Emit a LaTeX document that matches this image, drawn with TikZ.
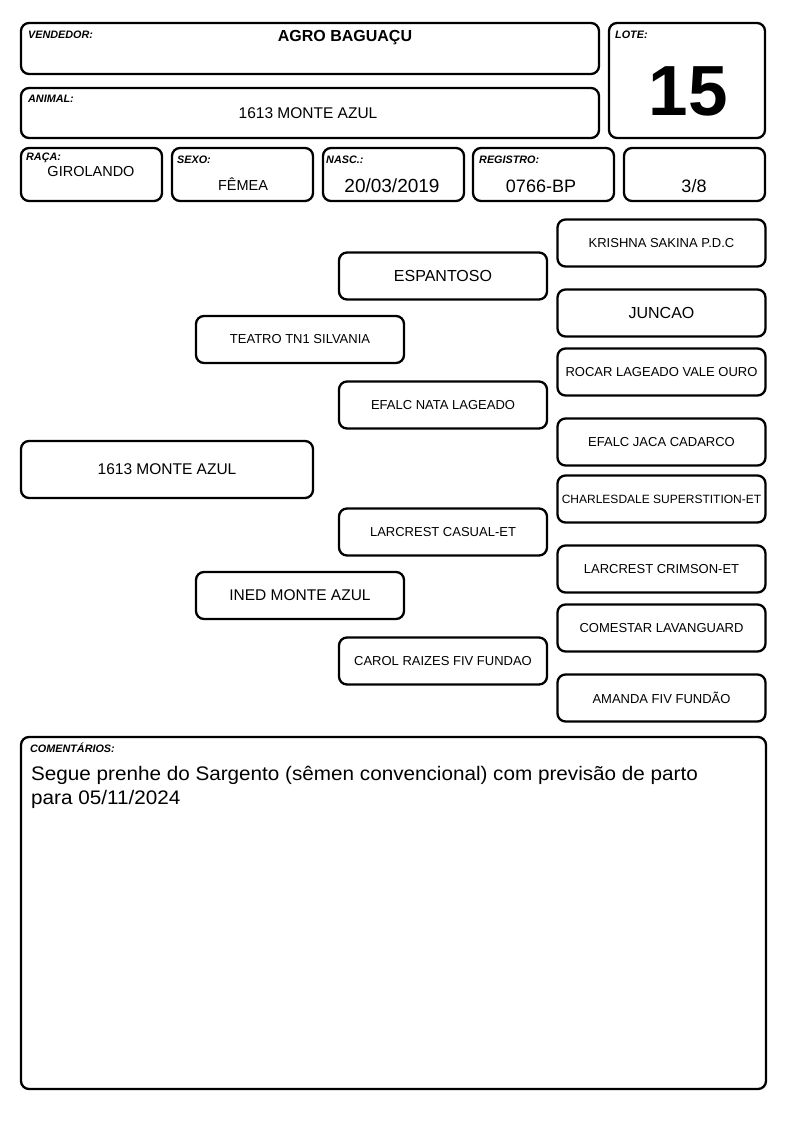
\documentclass[tikz,border=0pt]{standalone}
\usepackage{fontspec}
\setmainfont{Liberation Sans}
\newfontfamily\widefont[FakeStretch=1.055]{Liberation Sans}
\newcommand\fsz[1]{\fontsize{#1}{#1}\selectfont}
\begin{document}
\begin{tikzpicture}[x=1pt,y=-1pt,
  box/.style={draw, line width=2.3pt, rounded corners=8pt, inner sep=0pt},
  lbl/.style={anchor=west, inner sep=0pt, font=\fsz{10.8}\bfseries\itshape},
  val/.style={inner sep=0pt},
  ped/.style={box, minimum width=208pt, minimum height=47pt, align=center, font=\fsz{13}},
]
\useasboundingbox (0,0) rectangle (794,1123);
% header boxes
\node[box, minimum width=578pt, minimum height=51pt] (vend) at (310,48.5) {};
\node[lbl] (vendl) at (28,35) {VENDEDOR:};
\node[val, font=\fsz{16}\bfseries] (vendv) at (345,38) {AGRO BAGUAÇU};

\node[box, minimum width=578pt, minimum height=50pt] (anim) at (310,113) {};
\node[lbl] (animl) at (28,99) {ANIMAL:};
\node[val, font=\fsz{15.5}] (animv) at (308,113) {1613 MONTE AZUL};

\node[box, minimum width=156pt, minimum height=115pt] (lote) at (687,80.5) {};
\node[lbl] (lotel) at (615,35) {LOTE:};
\node[val, font=\fsz{71}\bfseries] (lotev) at (688,91) {15};

\node[box, minimum width=141pt, minimum height=53pt] (raca) at (91.5,174.5) {};
\node[lbl] (racal) at (26,158) {RAÇA:};
\node[val, font=\fsz{14.5}] (racav) at (91,172) {GIROLANDO};

\node[box, minimum width=141pt, minimum height=53pt] (sexo) at (242.5,174.5) {};
\node[lbl] (sexol) at (177,160) {SEXO:};
\node[val, font=\fsz{14.5}] (sexov) at (243,184) {FÊMEA};

\node[box, minimum width=141pt, minimum height=53pt] (nasc) at (393.5,174.5) {};
\node[lbl] (nascl) at (326,160) {NASC.:};
\node[val, font=\fsz{19}] (nascv) at (392,186) {20/03/2019};

\node[box, minimum width=141pt, minimum height=53pt] (reg) at (543.5,174.5) {};
\node[lbl] (regl) at (479,160) {REGISTRO:};
\node[val, font=\fsz{18}] (regv) at (541,186) {0766-BP};

\node[box, minimum width=141pt, minimum height=53pt] (frac) at (694.5,174.5) {};
\node[val, font=\fsz{18}] (fracv) at (694,186) {3/8};

% pedigree
\node[box, minimum width=292pt, minimum height=57pt, font=\fsz{15.5}] (p0) at (167,469.5) {1613 MONTE AZUL};

\node[ped] (p1) at (300,339.5) {TEATRO TN1 SILVANIA};
\node[ped, font=\fsz{15.5}] (p2) at (300,595.5) {INED MONTE AZUL};

\node[ped, font=\fsz{16}] (p11) at (443,276) {ESPANTOSO};
\node[ped] (p12) at (443,405) {EFALC NATA LAGEADO};
\node[ped] (p21) at (443,532) {LARCREST CASUAL-ET};
\node[ped] (p22) at (443,661) {CAROL RAIZES FIV FUNDAO};

\node[ped] (p111) at (661.5,243) {KRISHNA SAKINA P.D.C};
\node[ped, font=\fsz{16}] (p112) at (661.5,313) {JUNCAO};
\node[ped] (p121) at (661.5,372) {ROCAR LAGEADO VALE OURO};
\node[ped] (p122) at (661.5,442) {EFALC JACA CADARCO};
\node[ped, font=\fsz{12}] (p211) at (661.5,499) {CHARLESDALE SUPERSTITION-ET};
\node[ped] (p212) at (661.5,569) {LARCREST CRIMSON-ET};
\node[ped] (p221) at (661.5,628) {COMESTAR LAVANGUARD};
\node[ped] (p222) at (661.5,698) {AMANDA FIV FUNDÃO};

% comments
\node[box, minimum width=745pt, minimum height=352pt] (com) at (393.5,913) {};
\node[lbl] (coml) at (30,748) {COMENTÁRIOS:};
\node[anchor=base west, inner sep=0pt, font=\widefont\fsz{19.6}] (cm1) at (31,780) {Segue prenhe do Sargento (sêmen convencional) com previsão de parto};
\node[anchor=base west, inner sep=0pt, font=\widefont\fsz{19.6}] (cm2) at (31,804) {para 05/11/2024};
\end{tikzpicture}
\end{document}
